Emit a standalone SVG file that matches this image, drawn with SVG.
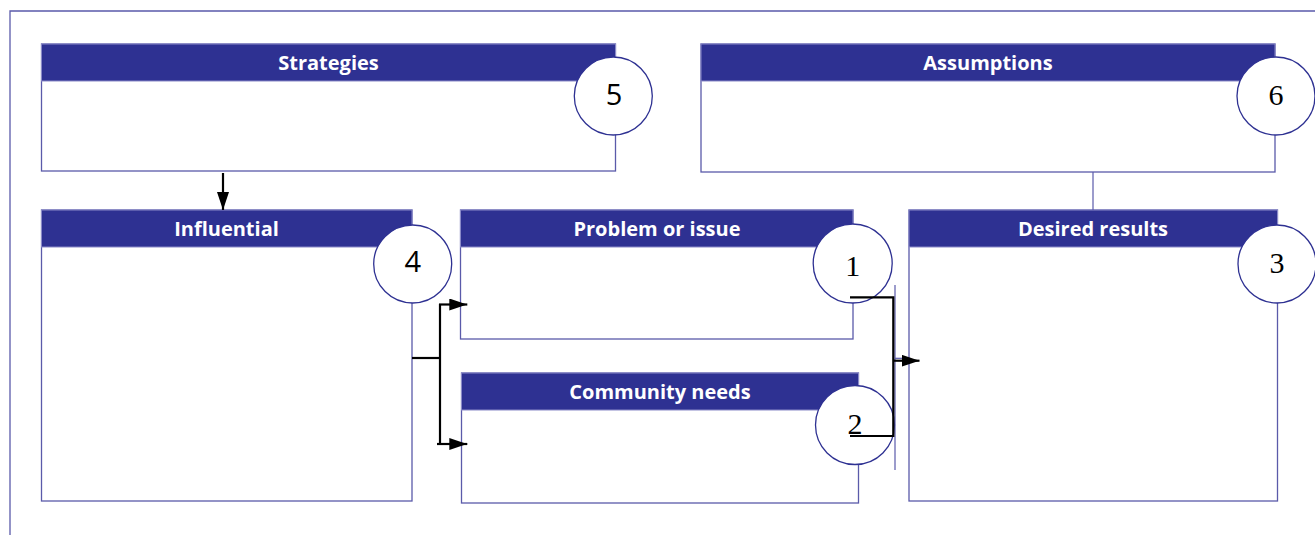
<svg xmlns="http://www.w3.org/2000/svg" width="1315" height="535" viewBox="0 0 1315 535">
<style>
.frame{fill:none;stroke:#5a5aaa;stroke-width:1.3}
.body{fill:#fff;stroke:#5a5aaa;stroke-width:1.3}
.hdr{fill:#2e3192;stroke:#8a8ac8;stroke-width:1}
.ht{font-family:"Open Sans",Lato,sans-serif;font-weight:bold;font-size:20px;fill:#fff;text-anchor:middle}
.circ{fill:#fff;stroke:#2e3192;stroke-width:1.3}
.ns{font-family:"Open Sans","DejaVu Sans",sans-serif;font-size:29px;fill:#000;text-anchor:middle}
.nr{font-family:"Liberation Serif","Times New Roman",serif;font-size:30px;fill:#000;text-anchor:middle}
.con{fill:none;stroke:#000;stroke-width:2.2}
.thin{fill:none;stroke:#5a5aaa;stroke-width:1.2}
</style>
<defs>
<marker id="ah" viewBox="0 0 18 12" refX="18" refY="6" markerWidth="18" markerHeight="12" markerUnits="userSpaceOnUse" orient="auto">
<path d="M0,0 L18,6 L0,12 Z" fill="#000"/>
</marker>
</defs>
<rect width="1315" height="535" fill="#fff"/>
<path class="frame" d="M10,540 V11 H1320"/>

<g id="strategies">
<rect class="body" x="41.5" y="44" width="574" height="127"/>
<rect class="hdr" x="41.5" y="44" width="574" height="37"/>
<text class="ht" x="328.5" y="70">Strategies</text>
<circle class="circ" cx="613.3" cy="96" r="39"/>
<text class="ns" x="614" y="105">5</text>
</g>

<g id="assumptions">
<rect class="body" x="701" y="44" width="574" height="128"/>
<rect class="hdr" x="701" y="44" width="574" height="37"/>
<text class="ht" x="988" y="70">Assumptions</text>
<circle class="circ" cx="1276" cy="96" r="39"/>
<text class="nr" x="1276" y="105">6</text>
</g>

<g id="influential">
<rect class="body" x="41.5" y="210" width="370.5" height="291"/>
<rect class="hdr" x="41.5" y="210" width="370.5" height="37"/>
<text class="ht" x="226.5" y="236">Influential</text>
<circle class="circ" cx="412.7" cy="264" r="39"/>
<text class="ns" x="412.7" y="272">4</text>
</g>

<g id="problem">
<rect class="body" x="460.5" y="210" width="392.5" height="129"/>
<rect class="hdr" x="460.5" y="210" width="392.5" height="37"/>
<text class="ht" x="657" y="236">Problem or issue</text>
<circle class="circ" cx="852.7" cy="263.5" r="39.5"/>
<text class="nr" x="852.7" y="276">1</text>
</g>

<g id="community">
<rect class="body" x="461.5" y="373" width="397" height="130"/>
<rect class="hdr" x="461.5" y="373" width="397" height="37"/>
<text class="ht" x="660" y="399">Community needs</text>
<circle class="circ" cx="855" cy="425" r="39.5"/>
<text class="nr" x="855" y="434">2</text>
</g>

<g id="desired">
<rect class="body" x="909" y="210" width="368.5" height="291"/>
<rect class="hdr" x="909" y="210" width="368.5" height="37"/>
<text class="ht" x="1093" y="236">Desired results</text>
<circle class="circ" cx="1277" cy="264" r="39"/>
<text class="nr" x="1277" y="273">3</text>
</g>

<g id="connectors">
<line class="thin" x1="1093" y1="172" x2="1093" y2="210"/>
<line class="thin" x1="895" y1="285" x2="895" y2="470"/>
<line class="thin" x1="895" y1="358.3" x2="902" y2="358.3"/>
<line class="con" x1="223" y1="173" x2="223" y2="210" marker-end="url(#ah)"/>
<path class="con" d="M412,358 H440"/>
<path class="con" d="M440,304 V444"/>
<line class="con" x1="439" y1="304.5" x2="467.3" y2="304.5" marker-end="url(#ah)"/>
<line class="con" x1="437" y1="444" x2="467.3" y2="444" marker-end="url(#ah)"/>
<path class="con" d="M850,297.3 H893.3 V436 H850"/>
<line class="con" x1="893" y1="360.7" x2="919.5" y2="360.7" marker-end="url(#ah)"/>
</g>
</svg>
